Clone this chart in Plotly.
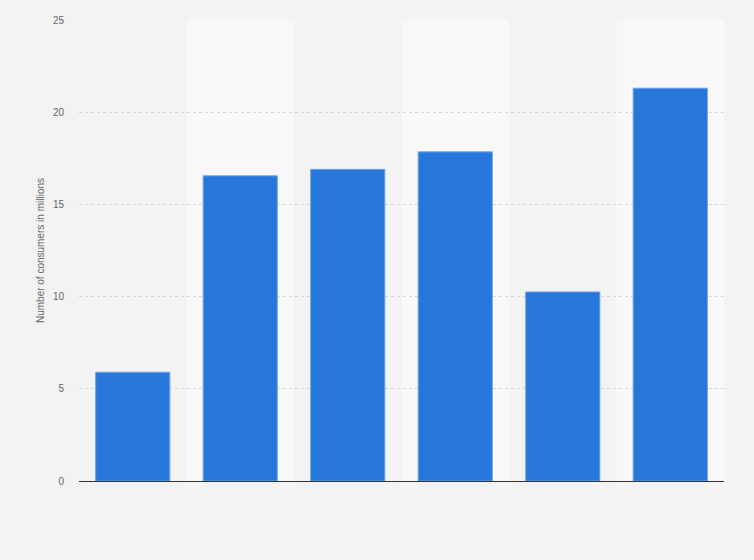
import plotly.graph_objects as go

# categories are not labelled in the source chart
categories = ['A', 'B', 'C', 'D', 'E', 'F']
consumers = [5.9, 16.55, 16.9, 17.85, 10.25, 21.3]
y_ticks = [0, 5, 10, 15, 20, 25]

fig = go.Figure()
fig.add_trace(go.Bar(
    x=categories,
    y=consumers,
    marker=dict(color='#2776d9', line=dict(color='#6fa3e8', width=1)),
    width=0.69,
))

# lighter background bands behind every second column
for i in range(1, len(categories), 2):
    fig.add_shape(type='rect', xref='x', yref='paper',
                  x0=i - 0.5, x1=i + 0.5, y0=0, y1=1,
                  fillcolor='#f8f8f8', line=dict(width=0), layer='below')

fig.update_layout(
    width=754, height=560,
    margin=dict(l=79, r=30, t=20, b=79),
    paper_bgcolor='#f3f3f3',
    plot_bgcolor='#f3f3f3',
    font=dict(family='Arial, Liberation Sans, sans-serif', color='#666666'),
    showlegend=False,
    bargap=0.31,
)
fig.update_xaxes(showticklabels=False, showgrid=False, zeroline=False,
                 showline=False, range=[-0.5, 5.5])
fig.update_yaxes(range=[0, 25], tickvals=y_ticks, tickfont=dict(size=10, color='#666666'),
                 showgrid=True, gridcolor='#d6d6d6', griddash='dot', gridwidth=1,
                 zeroline=True, zerolinecolor='#333333', zerolinewidth=1.2,
                 ticks='', ticklabelstandoff=14,
                 title=dict(text='Number of consumers in millions',
                            font=dict(size=10, color='#666666'), standoff=6))

fig.write_html("out.html", config={'displayModeBar': False},
               post_script="document.body.style.margin='0';")
